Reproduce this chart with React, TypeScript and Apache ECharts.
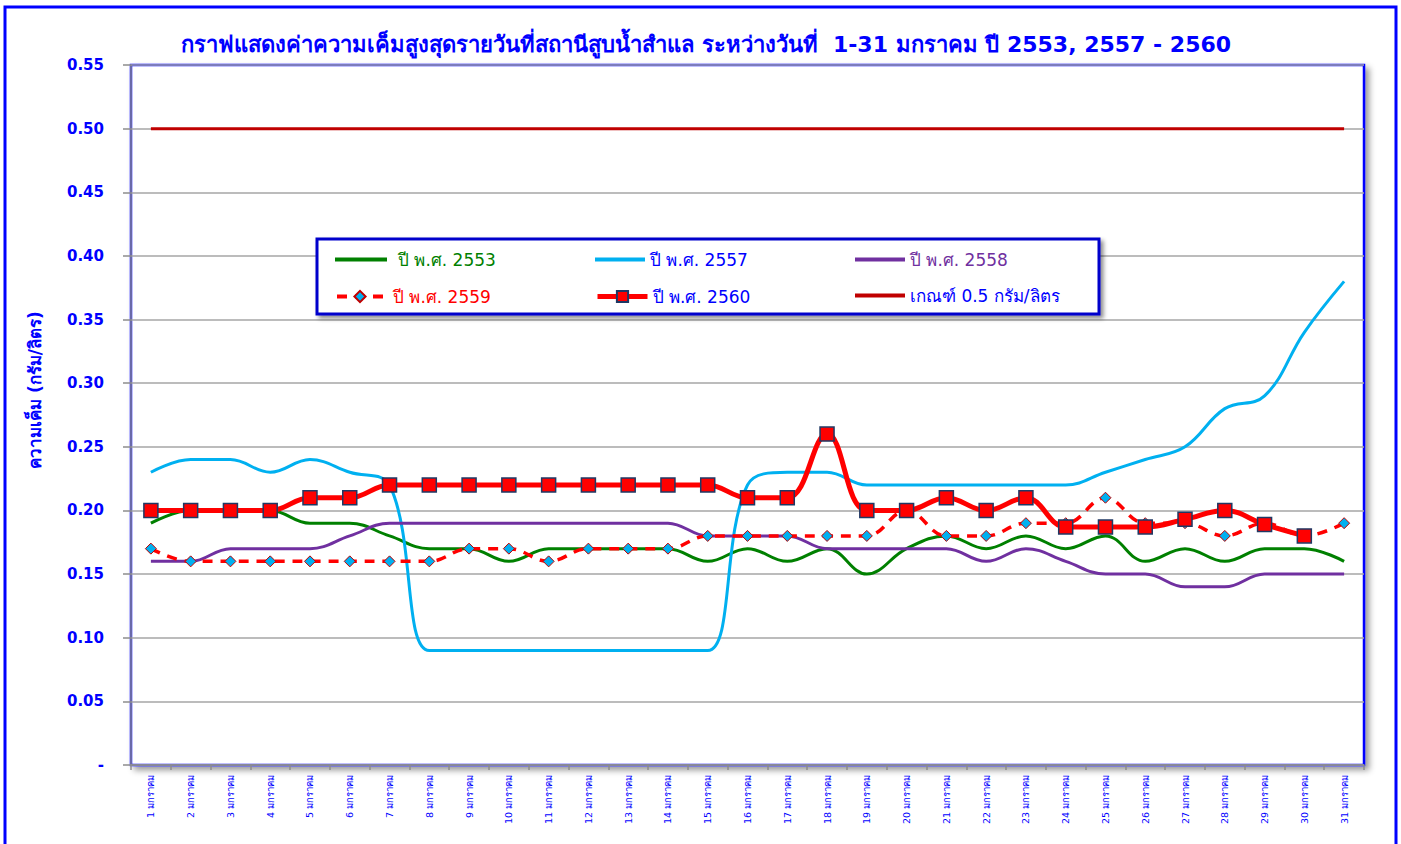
import React, { useEffect, useRef } from "react";
import * as echarts from "echarts";

const categories = [
  "1 มกราคม", "2 มกราคม", "3 มกราคม", "4 มกราคม", "5 มกราคม", "6 มกราคม", "7 มกราคม", "8 มกราคม",
  "9 มกราคม", "10 มกราคม", "11 มกราคม", "12 มกราคม", "13 มกราคม", "14 มกราคม", "15 มกราคม", "16 มกราคม",
  "17 มกราคม", "18 มกราคม", "19 มกราคม", "20 มกราคม", "21 มกราคม", "22 มกราคม", "23 มกราคม", "24 มกราคม",
  "25 มกราคม", "26 มกราคม", "27 มกราคม", "28 มกราคม", "29 มกราคม", "30 มกราคม", "31 มกราคม",
];

const y2553 = [0.19, 0.2, 0.2, 0.2, 0.19, 0.19, 0.18, 0.17, 0.17, 0.16, 0.17, 0.17, 0.17, 0.17, 0.16, 0.17, 0.16, 0.17, 0.15, 0.17, 0.18, 0.17, 0.18, 0.17, 0.18, 0.16, 0.17, 0.16, 0.17, 0.17, 0.16];
const y2557 = [0.23, 0.24, 0.24, 0.23, 0.24, 0.23, 0.22, 0.09, 0.09, 0.09, 0.09, 0.09, 0.09, 0.09, 0.09, 0.22, 0.23, 0.23, 0.22, 0.22, 0.22, 0.22, 0.22, 0.22, 0.23, 0.24, 0.25, 0.28, 0.29, 0.34, 0.38];
const y2558 = [0.16, 0.16, 0.17, 0.17, 0.17, 0.18, 0.19, 0.19, 0.19, 0.19, 0.19, 0.19, 0.19, 0.19, 0.18, 0.18, 0.18, 0.17, 0.17, 0.17, 0.17, 0.16, 0.17, 0.16, 0.15, 0.15, 0.14, 0.14, 0.15, 0.15, 0.15];
const y2559 = [0.17, 0.16, 0.16, 0.16, 0.16, 0.16, 0.16, 0.16, 0.17, 0.17, 0.16, 0.17, 0.17, 0.17, 0.18, 0.18, 0.18, 0.18, 0.18, 0.2, 0.18, 0.18, 0.19, 0.19, 0.21, 0.19, 0.19, 0.18, 0.19, 0.18, 0.19];
const y2560 = [0.2, 0.2, 0.2, 0.2, 0.21, 0.21, 0.22, 0.22, 0.22, 0.22, 0.22, 0.22, 0.22, 0.22, 0.22, 0.21, 0.21, 0.26, 0.2, 0.2, 0.21, 0.2, 0.21, 0.187, 0.187, 0.187, 0.193, 0.2, 0.189, 0.18, null];
const threshold = [0.5, 0.5, 0.5, 0.5, 0.5, 0.5, 0.5, 0.5, 0.5, 0.5, 0.5, 0.5, 0.5, 0.5, 0.5, 0.5, 0.5, 0.5, 0.5, 0.5, 0.5, 0.5, 0.5, 0.5, 0.5, 0.5, 0.5, 0.5, 0.5, 0.5, 0.5];

const yTickLabels = ["-", "0.05", "0.10", "0.15", "0.20", "0.25", "0.30", "0.35", "0.40", "0.45", "0.50", "0.55"];

const seriesNames = ["ปี พ.ศ. 2553", "ปี พ.ศ. 2557", "ปี พ.ศ. 2558", "ปี พ.ศ. 2559", "ปี พ.ศ. 2560", "เกณฑ์ 0.5 กรัม/ลิตร"];

const titleText = "กราฟแสดงค่าความเค็มสูงสุดรายวันที่สถานีสูบน้ำสำแล ระหว่างวันที่  1-31 มกราคม ปี 2553, 2557 - 2560";
const yAxisName = "ความเค็ม (กรัม/ลิตร)";

const FONT = "Tahoma, 'DejaVu Sans', 'Noto Sans', sans-serif";
const BLUE = "#0000FF";

export default function App() {
  const ref = useRef<HTMLDivElement>(null);
  useEffect(() => {
    if (!ref.current) return;
    const chart = echarts.init(ref.current, undefined, { renderer: "svg" });

    const legendCfg = [
      { left: 335, top: 251, color: "#008000", w: 52, h: 4, icon: "rect", pad: 6, lw: 0 },
      { left: 595, top: 251, color: BLUE, w: 50, h: 4, icon: "rect", pad: 0, lw: 0 },
      { left: 855, top: 251, color: "#7030A0", w: 50, h: 4, icon: "rect", pad: 0, lw: 0 },
      { left: 335, top: 288, color: "#FF0000", w: 46, h: 14, icon: undefined, pad: 5, lw: 4 },
      { left: 595, top: 288, color: BLUE, w: 50, h: 14, icon: undefined, pad: 0, lw: 5 },
      { left: 855, top: 287, color: BLUE, w: 50, h: 4, icon: "rect", pad: 0, lw: 0 },
    ];

    const option: any = {
      animation: false,
      backgroundColor: "#ffffff",
      textStyle: { fontFamily: FONT },
      title: {
        text: titleText,
        left: 701,
        textAlign: "center",
        top: 28,
        textStyle: { color: BLUE, fontSize: 22, fontWeight: "bold", fontFamily: FONT },
      },
      legend: seriesNames.map((n, i) => {
        const c = legendCfg[i];
        const item: any = { name: n };
        if (c.icon) item.icon = c.icon;
        const lg: any = {
          show: true,
          data: [item],
          left: c.left,
          top: c.top,
          itemWidth: c.w,
          itemHeight: c.h,
          itemGap: 0,
          padding: 0,
          z: 6,
          selectedMode: false,
          textStyle: { color: c.color, fontSize: 17, fontFamily: FONT, padding: [0, 0, 0, c.pad] },
        };
        if (c.lw) lg.lineStyle = { width: c.lw };
        return lg;
      }),
      graphic: [
        {
          type: "rect",
          z: 0,
          shape: { x: 5, y: 7, width: 1391, height: 860 },
          style: { fill: "none", stroke: BLUE, lineWidth: 3 },
        },
        {
          type: "rect",
          z: 5,
          shape: { x: 317, y: 239, width: 782, height: 75 },
          style: {
            fill: "#ffffff",
            stroke: "#0000CC",
            lineWidth: 3,
            shadowBlur: 4,
            shadowOffsetX: 3,
            shadowOffsetY: 3,
            shadowColor: "rgba(0,0,0,0.45)",
          },
        },
        {
          type: "text",
          z: 5,
          x: 35,
          y: 390,
          rotation: Math.PI / 2,
          style: {
            text: yAxisName,
            fill: BLUE,
            fontSize: 17,
            fontWeight: "bold",
            fontFamily: FONT,
            align: "center",
            verticalAlign: "middle",
          },
        },
      ],
      grid: {
        show: true,
        left: 131,
        top: 65,
        right: 37,
        bottom: 79,
        backgroundColor: "#ffffff",
        borderColor: BLUE,
        borderWidth: 2.5,
        shadowBlur: 6,
        shadowOffsetX: 4,
        shadowOffsetY: 4,
        shadowColor: "rgba(0,0,0,0.4)",
      },
      xAxis: {
        type: "category",
        data: categories,
        boundaryGap: true,
        axisLine: { show: true, lineStyle: { color: "#8c8c8c", width: 1.5 } },
        axisTick: { show: true, length: 5, lineStyle: { color: "#8c8c8c", width: 1.5 } },
        axisLabel: {
          interval: 0,
          rotate: 90,
          fontSize: 9.5,
          color: BLUE,
          margin: 10,
          fontFamily: FONT,
        },
        splitLine: { show: false },
      },
      yAxis: {
        type: "value",
        min: 0,
        max: 0.55,
        interval: 0.05,
        axisLine: { show: true, lineStyle: { color: "#8c8c8c", width: 1.5 } },
        axisTick: { show: true, length: 8, lineStyle: { color: "#8c8c8c", width: 1.5 } },
        axisLabel: {
          color: BLUE,
          fontSize: 15,
          fontWeight: "bold",
          margin: 27,
          fontFamily: FONT,
          formatter: (v: number) => yTickLabels[Math.round(v / 0.05)] ?? "",
        },
        splitLine: { show: true, lineStyle: { color: "#a6a6a6", width: 1.5 } },
      },
      series: [
        {
          name: seriesNames[0],
          type: "line",
          data: y2553,
          smooth: 0.4,
          showSymbol: false,
          symbol: "none",
          lineStyle: { color: "#008000", width: 3 },
          itemStyle: { color: "#008000" },
          z: 2,
        },
        {
          name: seriesNames[1],
          type: "line",
          data: y2557,
          smooth: 0.4,
          showSymbol: false,
          symbol: "none",
          lineStyle: { color: "#00B0F0", width: 3 },
          itemStyle: { color: "#00B0F0" },
          z: 2,
        },
        {
          name: seriesNames[2],
          type: "line",
          data: y2558,
          smooth: 0.4,
          showSymbol: false,
          symbol: "none",
          lineStyle: { color: "#7030A0", width: 3 },
          itemStyle: { color: "#7030A0" },
          z: 2,
        },
        {
          name: seriesNames[3],
          type: "line",
          data: y2559,
          smooth: 0.4,
          symbol: "diamond",
          symbolSize: 11,
          showSymbol: true,
          lineStyle: { color: "#FF0000", width: 3.5, type: [10, 8] },
          itemStyle: { color: "#00B0F0", borderColor: "#C00000", borderWidth: 1 },
          z: 3,
        },
        {
          name: seriesNames[4],
          type: "line",
          data: y2560,
          smooth: 0.4,
          symbol: "rect",
          symbolSize: 14,
          showSymbol: true,
          lineStyle: { color: "#FF0000", width: 5 },
          itemStyle: { color: "#FF0000", borderColor: "#1F3864", borderWidth: 1.5 },
          z: 4,
        },
        {
          name: seriesNames[5],
          type: "line",
          data: threshold,
          smooth: false,
          showSymbol: false,
          symbol: "none",
          lineStyle: { color: "#C00000", width: 3 },
          itemStyle: { color: "#C00000" },
          z: 2,
        },
      ],
    };
    chart.setOption(option);
    return () => chart.dispose();
  }, []);
  return (
    <div
      ref={ref}
      style={{ position: "fixed", left: 0, top: 0, width: 1401, height: 844 }}
    />
  );
}
